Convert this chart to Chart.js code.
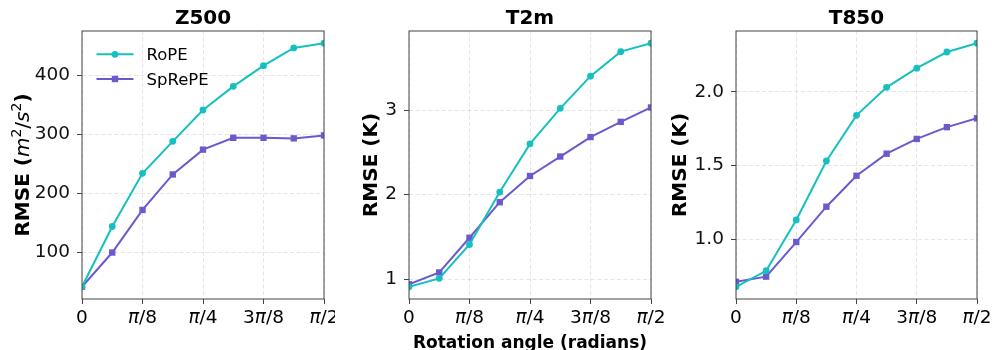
<!DOCTYPE html>
<html>
<head>
<meta charset="utf-8">
<script src="https://cdn.jsdelivr.net/npm/chart.js@4.4.1/dist/chart.umd.min.js"></script>
<style>
  body { margin: 0; background: #fff; }
  #wrap { position: relative; width: 995px; height: 350px; }
  canvas { position: absolute; top: 0; }
</style>
</head>
<body>
<div id="wrap">
  <canvas id="c0" width="335" height="350" style="left:0"></canvas>
  <canvas id="c1" width="330" height="350" style="left:335px"></canvas>
  <canvas id="c2" width="330" height="350" style="left:665px"></canvas>
</div>
<script>
'use strict';

// rotation angle, in multiples of pi/16
const angleSteps  = [0, 1, 2, 3, 4, 5, 6, 7, 8];
const xTickValues = [0, 2, 4, 6, 8];
const xTickLabels = ['0', 'π/8', 'π/4', '3π/8', 'π/2'];

const seriesNames = ['RoPE', 'SpRePE'];

const z500Rope   = [42, 144, 234, 288, 341, 381, 416, 446, 454];
const z500Sprepe = [42, 100, 172, 232, 274, 294, 294, 293, 298];
const t2mRope    = [0.91, 1.01, 1.41, 2.03, 2.60, 3.02, 3.40, 3.69, 3.79];
const t2mSprepe  = [0.94, 1.08, 1.49, 1.91, 2.22, 2.45, 2.68, 2.86, 3.03];
const t850Rope   = [0.676, 0.785, 1.13, 1.53, 1.84, 2.03, 2.16, 2.27, 2.33];
const t850Sprepe = [0.71, 0.745, 0.98, 1.22, 1.43, 1.58, 1.68, 1.76, 1.82];

const z500YTicks  = [100, 200, 300, 400];
const z500YLabels = ['100', '200', '300', '400'];
const t2mYTicks   = [1, 2, 3];
const t2mYLabels  = ['1', '2', '3'];
const t850YTicks  = [1.0, 1.5, 2.0];
const t850YLabels = ['1.0', '1.5', '2.0'];

const ROPE_COLOR   = '#16c0c0';
const SPREPE_COLOR = '#6a5acd';
const SPINE = '#444';
const FONT = "'DejaVu Sans', sans-serif";

const B = s => `bold ${s}px ${FONT}`;
const N = s => `${s}px ${FONT}`;
const I = s => `italic ${s}px ${FONT}`;

function drawRuns(ctx, runs, x, y, align) {
  let total = 0;
  runs.forEach(r => { ctx.font = r.font; r.w = ctx.measureText(r.text).width; total += r.w; });
  let cx = align === 'center' ? x - total / 2 : x;
  ctx.textAlign = 'left';
  ctx.textBaseline = 'alphabetic';
  runs.forEach(r => { ctx.font = r.font; ctx.fillText(r.text, cx, y + (r.dy || 0)); cx += r.w; });
}

function piRuns(label, size) {
  const out = [];
  label.split(/(π)/).forEach(t => {
    if (!t) return;
    out.push({ text: t, font: t === 'π' ? I(size) : N(size) });
  });
  return out;
}

function autoRange(a, b) {
  const lo = Math.min(...a, ...b), hi = Math.max(...a, ...b);
  const m = (hi - lo) * 0.05;
  return [lo - m, hi + m];
}

const decor = {
  id: 'decor',
  afterDraw(chart, args, o) {
    const { ctx, chartArea: a } = chart;
    const xs = chart.scales.x;
    ctx.save();
    // spines
    ctx.strokeStyle = SPINE;
    ctx.lineWidth = 1;
    ctx.strokeRect(a.left, a.top, a.right - a.left, a.bottom - a.top);

    ctx.fillStyle = '#000';
    // title
    drawRuns(ctx, [{ text: o.title, font: B(20) }], (a.left + a.right) / 2, 23.5, 'center');

    // x tick labels
    xTickValues.forEach((v, i) => {
      drawRuns(ctx, piRuns(xTickLabels[i], 18.5), xs.getPixelForValue(v), 322.5, 'center');
    });

    // y label
    ctx.save();
    ctx.translate(a.left - o.ylabelGap, (a.top + a.bottom) / 2);
    ctx.rotate(-Math.PI / 2);
    drawRuns(ctx, o.ylabel, 0, 0, 'center');
    ctx.restore();

    if (o.xlabel) {
      drawRuns(ctx, [{ text: o.xlabel, font: B(17) }], (a.left + a.right) / 2, 348, 'center');
    }

    if (o.legend) {
      const rows = [
        { name: seriesNames[0], color: ROPE_COLOR, shape: 'circle' },
        { name: seriesNames[1], color: SPREPE_COLOR, shape: 'rect' }
      ];
      rows.forEach((r, i) => {
        const y = a.top + 23.3 + i * 24.7;
        const x0 = a.left + 14.5;
        ctx.strokeStyle = r.color;
        ctx.fillStyle = r.color;
        ctx.lineWidth = 2;
        ctx.beginPath(); ctx.moveTo(x0, y); ctx.lineTo(x0 + 37, y); ctx.stroke();
        const mx = x0 + 18.5;
        ctx.beginPath();
        if (r.shape === 'circle') ctx.arc(mx, y, 3.4, 0, Math.PI * 2);
        else ctx.rect(mx - 3.2, y - 3.2, 6.4, 6.4);
        ctx.fill();
        ctx.fillStyle = '#000';
        drawRuns(ctx, [{ text: r.name, font: N(16.5) }], x0 + 50, y + 6, 'left');
      });
    }
    ctx.restore();
  }
};

function makePanel(id, cfg) {
  const [ymin, ymax] = autoRange(cfg.rope, cfg.sprepe);
  const pts = arr => angleSteps.map((x, i) => ({ x, y: arr[i] }));
  const ds = (label, arr, color, style, radius) => ({
    label, data: pts(arr),
    borderColor: color, backgroundColor: color,
    borderWidth: 2, pointStyle: style, pointRadius: radius, pointBorderWidth: 0,
    pointHoverRadius: radius, tension: 0, clip: 0
  });

  return new Chart(document.getElementById(id), {
    type: 'line',
    data: {
      datasets: [
        ds(seriesNames[0], cfg.rope, ROPE_COLOR, 'circle', 3.4),
        ds(seriesNames[1], cfg.sprepe, SPREPE_COLOR, 'rect', 4.5)
      ]
    },
    options: {
      responsive: false,
      devicePixelRatio: 1,
      animation: false,
      layout: { padding: { left: 0, right: cfg.padRight, top: 31, bottom: 0 } },
      plugins: {
        legend: { display: false },
        tooltip: { enabled: false },
        decor: { title: cfg.title, ylabel: cfg.ylabel, ylabelGap: cfg.ylabelGap, legend: cfg.legend, xlabel: cfg.xlabel }
      },
      scales: {
        x: {
          type: 'linear', min: 0, max: 8,
          afterBuildTicks: s => { s.ticks = xTickValues.map(v => ({ value: v })); },
          afterFit: s => { s.height = 51; },
          ticks: { display: false },
          border: { display: false, dash: [4, 2.5] },
          grid: { color: 'rgba(0,0,0,0.13)', lineWidth: 0.8, tickColor: SPINE, tickLength: 5, tickWidth: 1, tickBorderDash: [] }
        },
        y: {
          min: ymin, max: ymax,
          afterBuildTicks: s => { s.ticks = cfg.yTicks.map(v => ({ value: v })); },
          afterFit: s => { s.width = cfg.yWidth; },
          ticks: {
            color: '#111', padding: 7,
            font: { family: FONT, size: 18.5 },
            callback: (v, i) => cfg.yLabels[i]
          },
          border: { display: false, dash: [4, 2.5] },
          grid: { color: 'rgba(0,0,0,0.13)', lineWidth: 0.8, tickColor: SPINE, tickLength: 5, tickWidth: 1, tickBorderDash: [] }
        }
      }
    },
    plugins: [decor]
  });
}

makePanel('c0', {
  title: 'Z500', rope: z500Rope, sprepe: z500Sprepe,
  yTicks: z500YTicks, yLabels: z500YLabels,
  yWidth: 82, padRight: 11, ylabelGap: 53, legend: true,
  ylabel: [
    { text: 'RMSE (', font: B(20) },
    { text: 'm', font: I(20) },
    { text: '2', font: N(14), dy: -8 },
    { text: '/', font: N(20) },
    { text: 's', font: I(20) },
    { text: '2', font: N(14), dy: -8 },
    { text: ')', font: B(20) }
  ]
});

makePanel('c1', {
  title: 'T2m', rope: t2mRope, sprepe: t2mSprepe,
  yTicks: t2mYTicks, yLabels: t2mYLabels,
  yWidth: 74, padRight: 14, ylabelGap: 32,
  xlabel: 'Rotation angle (radians)',
  ylabel: [{ text: 'RMSE (K)', font: B(20) }]
});

makePanel('c2', {
  title: 'T850', rope: t850Rope, sprepe: t850Sprepe,
  yTicks: t850YTicks, yLabels: t850YLabels,
  yWidth: 71, padRight: 18, ylabelGap: 50,
  ylabel: [{ text: 'RMSE (K)', font: B(20) }]
});
</script>
</body>
</html>
